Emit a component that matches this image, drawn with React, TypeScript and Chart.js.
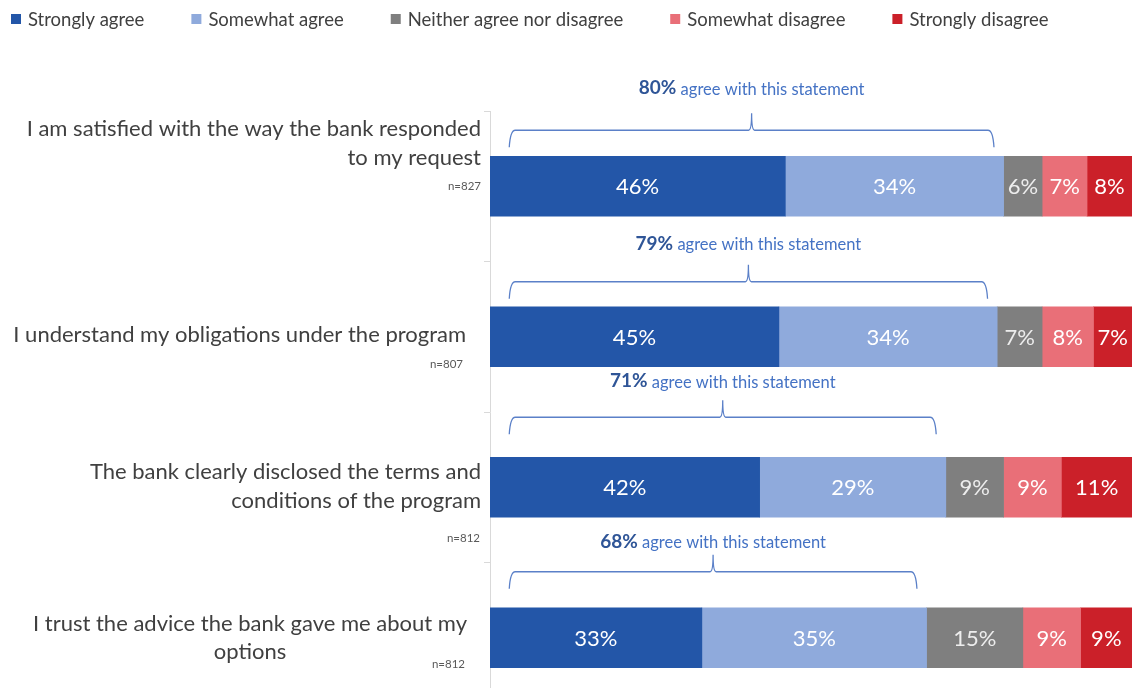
import React, { useEffect, useRef } from "react";
import { Chart, registerables } from "chart.js";

Chart.register(...registerables);

// ---------- DATA ----------
const categories: string[][] = [
  ["I am satisfied with the way the bank responded", "to my request"],
  ["I understand my obligations under the program"],
  ["The bank clearly disclosed the terms and", "conditions of the program"],
  ["I trust the advice the bank gave me about my", "options"],
];
const sampleSizes = ["n=827", "n=807", "n=812", "n=812"];
const seriesNames = [
  "Strongly agree",
  "Somewhat agree",
  "Neither agree nor disagree",
  "Somewhat disagree",
  "Strongly disagree",
];
const stronglyAgree = [46, 45, 42, 33];
const somewhatAgree = [34, 34, 29, 35];
const neitherAgree = [6, 7, 9, 15];
const somewhatDisagree = [7, 8, 9, 9];
const stronglyDisagree = [8, 7, 11, 9];
const agreeTotals = [80, 79, 71, 68];
const xMin = 0;
const xMax = 100;

// ---------- STYLE ----------
const seriesColors = ["#2356A8", "#8FAADC", "#7F7F7F", "#E96F78", "#CB2029"];
const FONT = "Lato, 'Open Sans', sans-serif";
const labelColor = "#404040";
const bracketColor = "#5B80C8";

// per-category label layout (offsets from category centre, px)
const labelLayout = [
  { align: "right", x: 481, lines: [-57, -28], nY: 0, nX: 481 },
  { align: "right", x: 466, lines: [-2], nY: 28, nX: 463 },
  { align: "right", x: 481, lines: [-15, 14], nY: 51, nX: 480 },
  { align: "center", x: 250, lines: [-14, 14], nY: 27, nX: 465 },
];
// bracket layout: horizontal line distance above bar top, text distance above line
const bracketLayout = [
  { lift: 26, text: 42 },
  { lift: 25, text: 38 },
  { lift: 40, text: 36 },
  { lift: 36, text: 30 },
];

const legendPlugin = {
  id: "customLegend",
  afterDraw(chart: any) {
    const ctx = chart.ctx;
    ctx.save();
    ctx.font = `18.5px ${FONT}`;
    ctx.textBaseline = "middle";
    let x = 11;
    const y = 19;
    chart.data.datasets.forEach((ds: any) => {
      ctx.fillStyle = ds.backgroundColor;
      ctx.fillRect(x, y - 5, 10, 10);
      ctx.fillStyle = labelColor;
      ctx.textAlign = "left";
      ctx.fillText(ds.label, x + 17, y + 1);
      x += 17 + ctx.measureText(ds.label).width + 47;
    });
    ctx.restore();
  },
};

const labelsPlugin = {
  id: "catLabels",
  afterDraw(chart: any) {
    const ctx = chart.ctx;
    const yScale = chart.scales.y;
    ctx.save();
    ctx.textBaseline = "middle";
    categories.forEach((lines, i) => {
      const cy = yScale.getPixelForValue(i);
      const lay = labelLayout[i];
      ctx.fillStyle = labelColor;
      ctx.font = `22px ${FONT}`;
      ctx.textAlign = lay.align;
      lines.forEach((ln, k) => {
        ctx.fillText(ln, lay.x, cy + lay.lines[k]);
      });
      ctx.font = `11.5px ${FONT}`;
      ctx.fillStyle = "#595959";
      ctx.textAlign = "right";
      ctx.fillText(sampleSizes[i], lay.nX, cy + lay.nY);
    });
    ctx.restore();
  },
};

const valueLabelsPlugin = {
  id: "valueLabels",
  afterDatasetsDraw(chart: any) {
    const ctx = chart.ctx;
    const area = chart.chartArea;
    ctx.save();
    ctx.font = `22px ${FONT}`;
    ctx.textAlign = "center";
    ctx.textBaseline = "middle";
    chart.data.datasets.forEach((ds: any, di: number) => {
      ctx.fillStyle = di === 2 ? "#EDEDED" : "#FFFFFF";
      const meta = chart.getDatasetMeta(di);
      meta.data.forEach((el: any, i: number) => {
        const l = Math.max(Math.min(el.base, el.x), area.left);
        const r = Math.min(Math.max(el.base, el.x), area.right);
        if (r <= l) return;
        ctx.fillText(`${ds.data[i]}%`, (l + r) / 2, el.y + 1);
      });
    });
    ctx.restore();
  },
};

const bracketPlugin = {
  id: "brackets",
  afterDatasetsDraw(chart: any) {
    const ctx = chart.ctx;
    const xs = chart.scales.x;
    const meta = chart.getDatasetMeta(0);
    ctx.save();
    agreeTotals.forEach((tot, i) => {
      const el: any = meta.data[i];
      const top = el.y - el.height / 2;
      const lay = bracketLayout[i];
      const hy = top - lay.lift;
      const L = xs.getPixelForValue(3);
      const R = xs.getPixelForValue(tot - 1.5);
      const C = (L + R) / 2;
      ctx.strokeStyle = bracketColor;
      ctx.lineWidth = 1.3;
      ctx.beginPath();
      ctx.moveTo(L, hy + 17);
      ctx.quadraticCurveTo(L + 1, hy, L + 6, hy);
      ctx.lineTo(C - 3, hy);
      ctx.quadraticCurveTo(C, hy, C, hy - 17);
      ctx.quadraticCurveTo(C, hy, C + 3, hy);
      ctx.lineTo(R - 6, hy);
      ctx.quadraticCurveTo(R - 1, hy, R, hy + 17);
      ctx.stroke();

      const ty = hy - lay.text;
      const bold = `${tot}%`;
      const rest = " agree with this statement";
      ctx.textBaseline = "middle";
      ctx.font = `bold 19px ${FONT}`;
      const wb = ctx.measureText(bold).width;
      ctx.font = `16.5px ${FONT}`;
      const wr = ctx.measureText(rest).width;
      const sx = C - (wb + wr) / 2;
      ctx.textAlign = "left";
      ctx.font = `bold 19px ${FONT}`;
      ctx.fillStyle = "#2F5597";
      ctx.fillText(bold, sx, ty);
      ctx.font = `16.5px ${FONT}`;
      ctx.fillStyle = "#4472C4";
      ctx.fillText(rest, sx + wb, ty + 1);
    });
    ctx.restore();
  },
};

export default function App() {
  const ref = useRef<HTMLCanvasElement | null>(null);
  useEffect(() => {
    document.body.style.margin = "0";
    if (!ref.current) return;
    const series = [stronglyAgree, somewhatAgree, neitherAgree, somewhatDisagree, stronglyDisagree];
    const chart = new Chart(ref.current, {
      type: "bar",
      data: {
        labels: categories.map((c) => c.join(" ")),
        datasets: series.map((d, i) => ({
          label: seriesNames[i],
          data: d,
          backgroundColor: seriesColors[i],
          borderWidth: 0,
          barThickness: 60,
        })),
      },
      options: {
        indexAxis: "y",
        animation: false,
        responsive: false,
        maintainAspectRatio: false,
        layout: { padding: { top: 111, bottom: 1, left: 0, right: 0 } },
        plugins: { legend: { display: false }, tooltip: { enabled: false } },
        scales: {
          x: { stacked: true, display: false, min: xMin, max: xMax },
          y: {
            stacked: true,
            ticks: { display: false },
            grid: {
              display: true,
              drawOnChartArea: false,
              drawTicks: true,
              tickLength: 6,
              offset: true,
              color: "#D9D9D9",
            },
            border: { display: true, color: "#D9D9D9" },
            afterFit: (scale: any) => {
              scale.width = 490;
            },
          },
        },
      },
      plugins: [legendPlugin, labelsPlugin, valueLabelsPlugin, bracketPlugin],
    });
    return () => chart.destroy();
  }, []);
  return (
    <div style={{ width: 1132, height: 688, overflow: "hidden", background: "#fff" }}>
      <canvas ref={ref} width={1132} height={714} style={{ display: "block" }} />
    </div>
  );
}
